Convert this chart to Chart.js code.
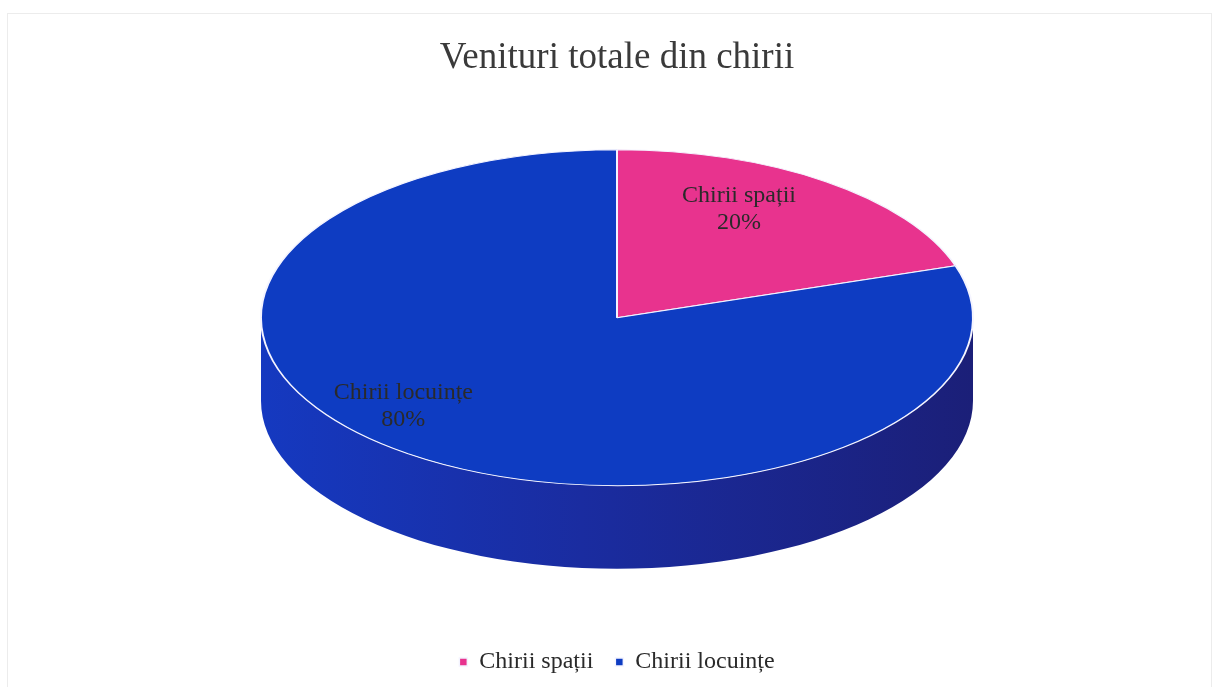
<!DOCTYPE html>
<html>
<head>
<meta charset="utf-8">
<script src="https://cdn.jsdelivr.net/npm/chart.js@4.4.1/dist/chart.umd.min.js"></script>
<style>
  html, body { margin: 0; padding: 0; background: #fff; }
  #wrap { width: 1216px; height: 687px; position: relative; }
</style>
</head>
<body>
<div id="wrap"><canvas id="myChart" width="1216" height="687"></canvas></div>
<script>
// data
var categories = ['Chirii spații', 'Chirii locuințe'];
var shares = [20, 80];
var chartTitle = 'Venituri totale din chirii';

var sliceColors = ['#E8338E', '#0E3CC2'];
var sideColors = [['#c02874', '#b02468', '#8a1a52'], ['#1539c0', '#1a2ca0', '#1b1f78']];

// 3d look: ellipse radii and thickness of the disc (px)
var RX = 356, RY = 168, DEPTH = 83;
// label placement inside slices (radius fraction, turn in degrees)
var labelRadius = [0.73, 0.80];
var labelTurn = [-8, 12.6];

function frontRange(s, e) {
    // part of [s,e] that lies in the front half [0, PI]
    var out = [];
    for (var k = -1; k <= 1; k++) {
        var a = Math.max(s + k * 2 * Math.PI, 0);
        var b = Math.min(e + k * 2 * Math.PI, Math.PI);
        if (b > a) out.push([a, b]);
    }
    return out;
}

var pie3d = {
    id: 'pie3d',
    beforeDatasetsDraw: function(chart) {
        var meta = chart.getDatasetMeta(0);
        var first = meta.data[0];
        var x = first.x, y = first.y, R = first.outerRadius;
        var cx = x, cy = y - DEPTH / 2 - 2;
        var ctx = chart.ctx;
        ctx.save();
        ctx.translate(cx, cy);
        ctx.scale(RX / R, RY / R);
        ctx.translate(-x, -y);
        var D = DEPTH * R / RY;
        meta.data.forEach(function(el, i) {
            frontRange(el.startAngle, el.endAngle).forEach(function(r) {
                var g = ctx.createLinearGradient(x - R, 0, x + R, 0);
                g.addColorStop(0, sideColors[i][0]);
                g.addColorStop(0.45, sideColors[i][1]);
                g.addColorStop(1, sideColors[i][2]);
                ctx.beginPath();
                ctx.arc(x, y + D, R, r[0], r[1]);
                ctx.arc(x, y, R, r[1], r[0], true);
                ctx.closePath();
                ctx.fillStyle = g;
                ctx.fill();
            });
        });
        chart._pieGeom = {cx: cx, cy: cy};
    },
    afterDatasetsDraw: function(chart) {
        var ctx = chart.ctx;
        ctx.restore();
        var meta = chart.getDatasetMeta(0);
        var g = chart._pieGeom;
        var total = shares.reduce(function(a, b) { return a + b; }, 0);
        ctx.save();
        ctx.font = '24px "Liberation Serif", "Times New Roman", serif';
        ctx.fillStyle = '#2a2a2a';
        ctx.textAlign = 'center';
        ctx.textBaseline = 'middle';
        meta.data.forEach(function(el, i) {
            var mid = (el.startAngle + el.endAngle) / 2 + labelTurn[i] * Math.PI / 180;
            var px = g.cx + RX * Math.cos(mid) * labelRadius[i];
            var py = g.cy + RY * Math.sin(mid) * labelRadius[i];
            ctx.fillText(categories[i], px, py - 13.5);
            ctx.fillText(Math.round(shares[i] / total * 100) + '%', px, py + 13.5);
        });
        ctx.restore();
    },
    beforeDraw: function(chart) {
        var ctx = chart.ctx;
        ctx.save();
        ctx.fillStyle = '#ffffff';
        ctx.fillRect(0, 0, chart.width, chart.height);
        ctx.strokeStyle = '#ececec';
        ctx.lineWidth = 1;
        ctx.strokeRect(7.5, 13.5, chart.width - 12, chart.height - 12);
        ctx.restore();
    }
};

new Chart(document.getElementById('myChart'), {
    type: 'pie',
    data: {
        labels: categories,
        datasets: [{
            data: shares,
            backgroundColor: sliceColors,
            borderColor: '#f4f4ff',
            borderWidth: 1.5,
            clip: false
        }]
    },
    options: {
        responsive: false,
        animation: false,
        events: [],
        layout: { padding: { top: 0, bottom: 3, left: 18, right: 0 } },
        plugins: {
            title: {
                display: true,
                text: chartTitle,
                color: '#3a3a3a',
                font: { family: '"Liberation Serif", "Times New Roman", serif', size: 37, weight: 'normal' },
                padding: { top: 36, bottom: 14 }
            },
            legend: {
                position: 'bottom',
                labels: {
                    usePointStyle: true,
                    pointStyle: 'rect',
                    boxWidth: 8,
                    boxHeight: 8,
                    padding: 22,
                    color: '#2a2a2a',
                    font: { family: '"Liberation Serif", "Times New Roman", serif', size: 24 }
                }
            },
            tooltip: { enabled: false }
        }
    },
    plugins: [pie3d]
});
</script>
</body>
</html>
